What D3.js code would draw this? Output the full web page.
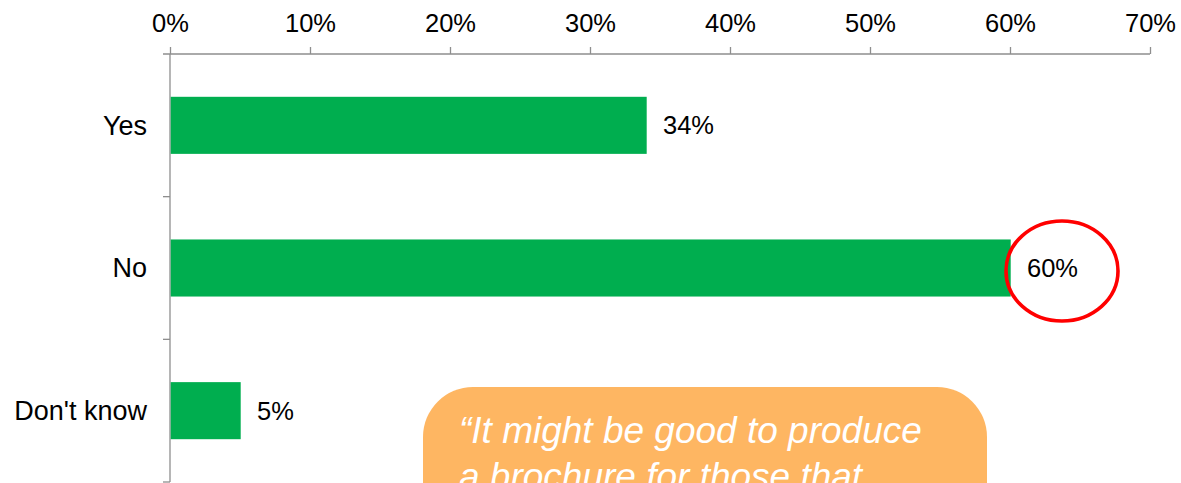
<!DOCTYPE html>
<html>
<head>
<meta charset="utf-8">
<script src="https://cdn.jsdelivr.net/npm/d3@7"></script>
<style>
  html, body { margin: 0; padding: 0; background: #ffffff; overflow: hidden; }
  svg { display: block; font-family: "Liberation Sans", Arial, sans-serif; }
</style>
</head>
<body>
<svg id="chart" width="1181" height="483"></svg>
<script>
// Survey answers and their shares (percent)
const categories = ["Yes", "No", "Don't know"];
const values = [34, 60, 5];
const xTicks = [0, 10, 20, 30, 40, 50, 60, 70];
const highlighted = ["No"];
const quoteLines = ["\u201CIt might be good to produce", "a brochure for those that"];

const svg = d3.select("#chart");
const plotLeft = 170, plotRight = 1150, plotTop = 54, plotBottom = 482;

const x = d3.scaleLinear().domain([0, 70]).range([plotLeft, plotRight]);
const y = d3.scaleBand().domain(categories).range([plotTop, plotBottom])
  .paddingInner(0.6).paddingOuter(0.3);

const axisColor = "#8e8e8e";
const green = "#00AE4F";

// Top value axis
const xAxis = d3.axisTop(x).tickValues(xTicks).tickFormat(d => d + "%")
  .tickSizeInner(7).tickSizeOuter(0).tickPadding(15);
const gx = svg.append("g").attr("transform", `translate(0,${plotTop})`).call(xAxis);
gx.select(".domain").remove();
gx.selectAll(".tick line").attr("stroke", axisColor).attr("stroke-width", 1.3);
gx.selectAll(".tick text").attr("fill", "#000").attr("font-size", 25.5)
  .attr("font-family", "'Liberation Sans', Arial, sans-serif");
svg.append("line").attr("x1", plotLeft - 7).attr("x2", x(70))
  .attr("y1", plotTop).attr("y2", plotTop).attr("stroke", axisColor).attr("stroke-width", 1.3);

// Left category axis with ticks between bands
svg.append("line").attr("x1", plotLeft).attr("x2", plotLeft)
  .attr("y1", plotTop).attr("y2", plotBottom).attr("stroke", axisColor).attr("stroke-width", 1.3);
const step = y.step();
const boundaries = d3.range(1, categories.length + 1).map(i => plotTop + i * step);
svg.selectAll(".ytick").data(boundaries).join("line")
  .attr("class", "ytick")
  .attr("x1", plotLeft - 7).attr("x2", plotLeft)
  .attr("y1", d => d).attr("y2", d => d)
  .attr("stroke", axisColor).attr("stroke-width", 1.3);

svg.selectAll(".cat").data(categories).join("text")
  .attr("class", "cat")
  .attr("x", plotLeft - 23)
  .attr("y", d => y(d) + y.bandwidth() / 2)
  .attr("dy", "0.35em")
  .attr("text-anchor", "end")
  .attr("font-size", 27)
  .attr("fill", "#000")
  .text(d => d);

// Bars
const data = categories.map((c, i) => ({ cat: c, v: values[i] }));
svg.selectAll(".bar").data(data).join("rect")
  .attr("class", "bar")
  .attr("x", x(0) + 0.7)
  .attr("y", d => y(d.cat))
  .attr("width", d => x(d.v) - x(0))
  .attr("height", y.bandwidth())
  .attr("fill", green);

// Value labels
svg.selectAll(".val").data(data).join("text")
  .attr("class", "val")
  .attr("x", d => x(d.v) + 17)
  .attr("y", d => y(d.cat) + y.bandwidth() / 2)
  .attr("dy", "0.35em")
  .attr("font-size", 25.5)
  .attr("fill", "#000")
  .text(d => d.v + "%");

// Red ring around the highlighted answer
svg.selectAll(".ring").data(data.filter(d => highlighted.includes(d.cat))).join("ellipse")
  .attr("class", "ring")
  .attr("cx", d => x(d.v) + 52)
  .attr("cy", d => y(d.cat) + y.bandwidth() / 2 + 3)
  .attr("rx", 56)
  .attr("ry", 50)
  .attr("fill", "none")
  .attr("stroke", "#FF0000")
  .attr("stroke-width", 3.6);

// Quote callout
const box = svg.append("g");
box.append("rect")
  .attr("x", 423).attr("y", 387)
  .attr("width", 564).attr("height", 160)
  .attr("rx", 50).attr("ry", 50)
  .attr("fill", "#FEB662");
box.selectAll("text").data(quoteLines).join("text")
  .attr("x", 459)
  .attr("y", (d, i) => 443 + i * 46)
  .attr("font-size", 37)
  .attr("font-style", "italic")
  .attr("fill", "#ffffff")
  .text(d => d);
</script>
</body>
</html>
